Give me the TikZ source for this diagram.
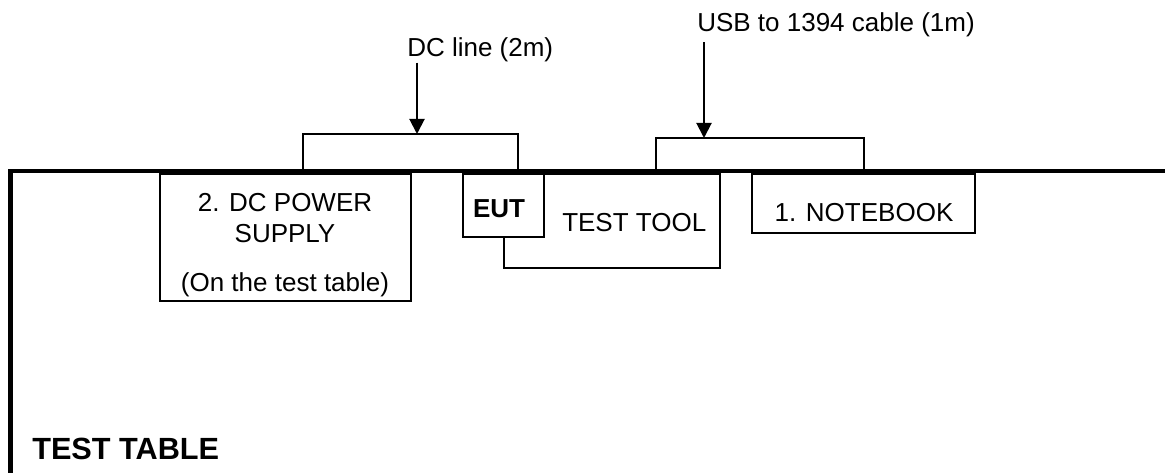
\documentclass[tikz,border=0pt]{standalone}
\usepackage{fontspec}
\setmainfont{Liberation Sans}
\usetikzlibrary{arrows.meta}
\tikzset{
  unit/.style={draw, line width=1.5pt, fill=white, inner sep=0pt, outer sep=0pt, anchor=north west},
  cable/.style={line width=1.5pt},
  pointer/.style={line width=1.5pt, -{Triangle[length=11.25pt,width=11.25pt]}},
  tbl/.style={line width=3.2pt},
  txt/.style={inner sep=0pt, font=\fontsize{19.5}{23}\selectfont},
}

\begin{document}
\begin{tikzpicture}[x=0.75pt,y=0.75pt,yscale=-1,xscale=1]
\useasboundingbox (0,0) rectangle (1165,473);

%Units on the table
\node [unit, minimum width=188.25pt, minimum height=95.25pt] (psu) at (160,174) {};
\node [unit, minimum width=162pt, minimum height=70.5pt] (tool) at (504,174) {};
\node [unit, minimum width=60.75pt, minimum height=47.25pt] (eut) at (463,174) {};
\node [unit, minimum width=167.25pt, minimum height=44.25pt] (nb) at (752,174) {};

%Test table edge
\coordinate (tblBL) at (10.5,473);
\coordinate (tblTR) at (1165,171);
\draw [tbl] (tblBL) |- (tblTR);

% Text Node
\node [txt, anchor=base] (psu1) at (285,212) {2. DC POWER};
\node [txt, anchor=base] (psu2) at (285,243) {SUPPLY};
\node [txt, anchor=base] (psu3) at (285,292) {(On the test table)};
\node [txt, anchor=base, font=\fontsize{19.5}{23}\selectfont\bfseries] (eutlbl) at (499,218) {EUT};
\node [txt, anchor=base west] (toollbl) at (562,232) {TEST TOOL};
\node [txt, anchor=base] (nblbl) at (864,222) {1. NOTEBOOK};
\node [txt, anchor=base west, font=\fontsize{23}{27}\selectfont\bfseries] (tbllbl) at (32,460) {TEST TABLE};

%Cables
\coordinate (dcA) at (303,172);
\coordinate (dcB) at (518,172);
\draw [cable] (dcA) -- ++(0,-38) -| (dcB);
\coordinate (usbA) at (656,172);
\coordinate (usbB) at (864,172);
\draw [cable] (usbA) -- ++(0,-34) -| (usbB);

%Cable labels
\node [txt, anchor=base west] (dclbl) at (407,57) {DC line (2m)};
\node [txt, anchor=base west] (usblbl) at (697,32) {USB to 1394 cable (1m)};
\coordinate (dcin) at (417,134);
\coordinate (usbin) at (704,138);
\draw [pointer] (dcin |- dclbl.south) -- (dcin);
\draw [pointer, shorten <=3.4pt] (usbin |- usblbl.south) -- (usbin);

\end{tikzpicture}
\end{document}
